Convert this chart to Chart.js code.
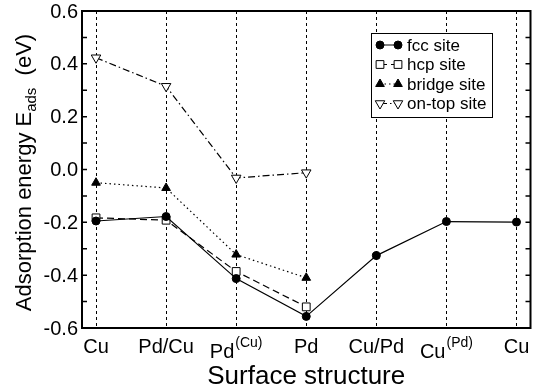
<!DOCTYPE html>
<html lang="en">
<head>
<meta charset="UTF-8">
<title>Adsorption energy vs surface structure</title>
<style>
  html, body { margin: 0; padding: 0; background: #fff; }
  canvas { display: block; }
</style>
</head>
<body>
<canvas id="eadsChart" width="537" height="392"></canvas>
<script src="https://cdn.jsdelivr.net/npm/chart.js"></script>
<script>
// surface structures along x: [label, superscript]
const structures = [['Cu', ''], ['Pd/Cu', ''], ['Pd', '(Cu)'], ['Pd', ''], ['Cu/Pd', ''], ['Cu', '(Pd)'], ['Cu', '']];
// adsorption energies in eV
const fccSite = [-0.195, -0.178, -0.413, -0.556, -0.326, -0.197, -0.199];
const hcpSite = [-0.183, -0.192, -0.386, -0.520];
const bridgeSite = [-0.050, -0.070, -0.322, -0.410];
const onTopSite = [0.423, 0.315, -0.032, -0.012];
const yLabels = [-0.6, -0.4, -0.2, 0.0, 0.2, 0.4, 0.6];

const FONT = '"Liberation Sans", Arial, Helvetica, sans-serif';
const pts = arr => arr.map((v, i) => ({x: i, y: v}));

const series = [
  {label: 'fcc site', data: pts(fccSite), pointStyle: 'circle', pointRadius: 4, fill: '#000', dash: [], rotation: 0},
  {label: 'hcp site', data: pts(hcpSite), pointStyle: 'rect', pointRadius: 5.5, fill: '#fff', dash: [7, 4], rotation: 0},
  {label: 'bridge site', data: pts(bridgeSite), pointStyle: 'triangle', pointRadius: 5, fill: '#000', dash: [1.5, 3], rotation: 0},
  {label: 'on-top site', data: pts(onTopSite), pointStyle: 'triangle', pointRadius: 5.5, fill: '#fff', dash: [7, 3, 1.5, 3], rotation: 180}
];

function marker(ctx, s, x, y) {
  Chart.helpers.drawPoint(ctx, {pointStyle: s.pointStyle, radius: s.pointRadius, rotation: s.rotation, borderWidth: 1}, x, y);
}

const decorations = {
  id: 'decorations',
  afterDraw(chart) {
    const {ctx, chartArea: a, scales: {x, y}} = chart;
    ctx.save();
    ctx.strokeStyle = '#000';
    ctx.fillStyle = '#000';

    // inward tick marks on both sides
    ctx.lineWidth = 1.5;
    y.ticks.forEach(t => {
      const py = y.getPixelForValue(t.value);
      ctx.beginPath();
      ctx.moveTo(a.left, py); ctx.lineTo(a.left + 5, py);
      ctx.moveTo(a.right, py); ctx.lineTo(a.right - 5, py);
      ctx.stroke();
    });

    // frame
    ctx.lineWidth = 2;
    ctx.strokeRect(a.left, a.top, a.right - a.left, a.bottom - a.top);

    // y tick labels
    ctx.font = '20px ' + FONT;
    ctx.textAlign = 'right';
    ctx.textBaseline = 'middle';
    yLabels.forEach(v => ctx.fillText(v.toFixed(1), a.left - 4, y.getPixelForValue(v) + 1));

    // x tick labels, some with superscripts
    ctx.textBaseline = 'alphabetic';
    ctx.textAlign = 'left';
    structures.forEach(([base, sup], i) => {
      const px = x.getPixelForValue(i);
      ctx.font = '20px ' + FONT;
      const wb = ctx.measureText(base).width;
      ctx.font = '14px ' + FONT;
      const ws = sup ? ctx.measureText(sup).width + 1 : 0;
      const x0 = px - (wb + ws) / 2;
      const by = sup ? a.bottom + 30 : a.bottom + 25;
      ctx.font = '20px ' + FONT;
      ctx.fillText(base, x0, by);
      if (sup) {
        ctx.font = '14px ' + FONT;
        ctx.fillText(sup, x0 + wb + 1, by - 11);
      }
    });

    // x axis title
    ctx.font = '26px ' + FONT;
    ctx.textAlign = 'center';
    ctx.fillText('Surface structure', (a.left + a.right) / 2, 384);

    // y axis title with subscript
    ctx.translate(31, (a.top + a.bottom) / 2 + 3);
    ctx.rotate(-Math.PI / 2);
    const t1 = 'Adsorption energy E', t2 = 'ads', t3 = '  (eV)';
    ctx.font = '22px ' + FONT;
    const w1 = ctx.measureText(t1).width, w3 = ctx.measureText(t3).width;
    ctx.font = '15px ' + FONT;
    const w2 = ctx.measureText(t2).width;
    let cx = -(w1 + w2 + w3) / 2;
    ctx.textAlign = 'left';
    ctx.font = '22px ' + FONT;
    ctx.fillText(t1, cx, 0); cx += w1;
    ctx.font = '15px ' + FONT;
    ctx.fillText(t2, cx, 5); cx += w2;
    ctx.font = '22px ' + FONT;
    ctx.fillText(t3, cx, 0);
    ctx.setTransform(1, 0, 0, 1, 0, 0);

    // legend
    ctx.lineWidth = 1;
    ctx.fillStyle = '#fff';
    ctx.fillRect(371.5, 33.5, 121, 84);
    ctx.strokeRect(371.5, 33.5, 121, 84);
    ctx.font = '17px ' + FONT;
    ctx.textBaseline = 'middle';
    series.forEach((s, i) => {
      const ly = 45 + i * 19.5;
      ctx.strokeStyle = '#000';
      ctx.lineWidth = 1;
      ctx.setLineDash(s.dash);
      ctx.beginPath(); ctx.moveTo(380, ly); ctx.lineTo(398, ly); ctx.stroke();
      ctx.setLineDash([]);
      ctx.fillStyle = s.fill;
      marker(ctx, s, 380, ly);
      marker(ctx, s, 398, ly);
      ctx.fillStyle = '#000';
      ctx.fillText(s.label, 407, ly + 1);
    });
    ctx.restore();
  }
};

new Chart(document.getElementById('eadsChart'), {
  type: 'line',
  data: {
    datasets: series.map(s => ({
      label: s.label,
      data: s.data,
      borderColor: '#000',
      borderWidth: 1.2,
      borderDash: s.dash,
      backgroundColor: s.fill,
      pointBackgroundColor: s.fill,
      pointBorderColor: '#000',
      pointBorderWidth: 1,
      pointStyle: s.pointStyle,
      pointRadius: s.pointRadius,
      pointRotation: s.rotation,
      tension: 0,
      fill: false
    }))
  },
  options: {
    responsive: false,
    animation: false,
    devicePixelRatio: 1,
    layout: {padding: {left: 82, top: 11, right: 2, bottom: 64}},
    plugins: {legend: {display: false}, tooltip: {enabled: false}},
    scales: {
      x: {
        type: 'linear', min: -0.2, max: 6.2,
        ticks: {display: false, stepSize: 1, includeBounds: false},
        grid: {color: '#000', lineWidth: 1, drawTicks: false},
        border: {display: false, dash: [3, 3]}
      },
      y: {
        min: -0.6, max: 0.6,
        ticks: {display: false, stepSize: 0.1},
        grid: {display: false, drawTicks: false},
        border: {display: false}
      }
    }
  },
  plugins: [decorations]
});
</script>
</body>
</html>
